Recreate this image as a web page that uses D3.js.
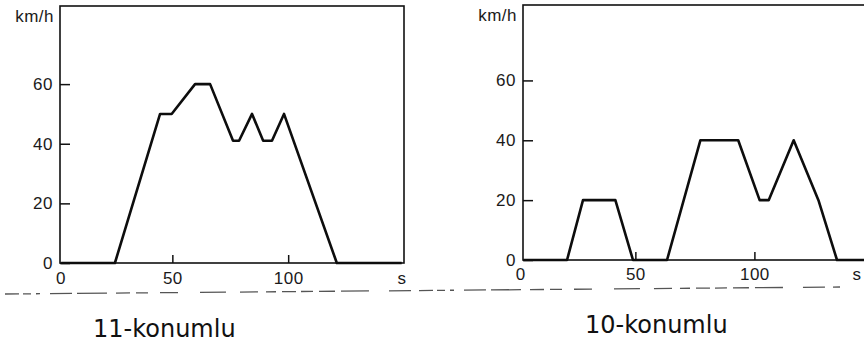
<!DOCTYPE html>
<html>
<head>
<meta charset="utf-8">
<script src="https://cdn.jsdelivr.net/npm/d3@7"></script>
<style>
  body { margin: 0; background: #fff; }
  svg { display: block; }
  .tick text { font-family: "Liberation Sans", Arial, sans-serif; font-size: 17px; fill: #1a1a1a; letter-spacing: 0.5px; }
  .unit { font-family: "Liberation Sans", Arial, sans-serif; font-size: 17px; fill: #1a1a1a; letter-spacing: 0.5px; }
  .hand { font-family: "DejaVu Sans", sans-serif; font-size: 24px; fill: #111; }
</style>
</head>
<body>
<svg width="864" height="348"></svg>
<script>
// Data (time in s, speed in km/h)
var leftTime  = [2, 25.2, 44.7, 49.7, 59.8, 66.3, 76.2, 78.8, 84.4, 89.2, 93.0, 98.2, 121, 149];
var leftSpeed = [0, 0,    50,   50,   60,   60,   41,   41,   50,   41,   41,   50,   0,   0];

var rightTime  = [3, 21.3, 28, 41.6, 49, 63.3, 77.3, 93.2, 102.2, 106, 116.5, 126.9, 134.7, 147];
var rightSpeed = [0, 0,    20, 20,   0,  0,    40,   40,   20,    20,  40,    20,    0,     0];

var xTicks = [0, 50, 100];
var yTicks = [0, 20, 40, 60];
var unitY = "km/h";
var unitX = "s";
var titles = ["11-konumlu", "10-konumlu"];

var svg = d3.select("svg");

// scan fold line under the charts
svg.append("path")
  .attr("d", "M5,294 L840,287")
  .attr("stroke", "#555")
  .attr("stroke-width", 1.3)
  .attr("fill", "none")
  .attr("stroke-dasharray", "14,4,8,5,4,10,22,5,30,9,14,6,12,12,18,22,26,14,18,8,10,6,14,5,12,6,16,6,28,20,22,8");

function panel(time, speed, opt) {
  var x = d3.scaleLinear().domain(opt.xDomain).range([opt.left, opt.right]);
  var y = d3.scaleLinear().domain(opt.yDomain).range([opt.bottom, opt.top]);
  var g = svg.append("g");

  // frame
  g.append("rect")
    .attr("x", opt.left).attr("y", opt.top)
    .attr("width", opt.right - opt.left).attr("height", opt.bottom - opt.top)
    .attr("fill", "none").attr("stroke", "#111").attr("stroke-width", 1.6);

  // y axis, ticks pointing inward
  var ya = g.append("g")
    .attr("transform", "translate(" + opt.left + ",0)")
    .call(d3.axisLeft(y).tickValues(yTicks).tickSize(-10).tickPadding(7));
  ya.select(".domain").remove();
  ya.selectAll("line").attr("stroke", "#111").attr("stroke-width", 1.5);

  // x axis, ticks pointing inward
  var xa = g.append("g")
    .attr("transform", "translate(0," + opt.bottom + ")")
    .call(d3.axisBottom(x).tickValues(xTicks).tickSize(-8).tickPadding(opt.xPad));
  xa.select(".domain").remove();
  xa.selectAll("line").attr("stroke", "#111").attr("stroke-width", 1.5)
    .filter(function(d) { return d === 0; }).remove();
  xa.selectAll("text").filter(function(d) { return d === 0; })
    .attr("dx", 4);

  g.append("text").attr("class", "unit")
    .attr("x", opt.left - 6).attr("y", opt.top + 16)
    .attr("text-anchor", "end").text(unitY);

  g.append("text").attr("class", "unit")
    .attr("x", opt.sX).attr("y", opt.bottom + opt.xPad + 12)
    .attr("text-anchor", "middle").text(unitX);

  var line = d3.line()
    .x(function(d, i) { return x(time[i]); })
    .y(function(d) { return y(d); });

  g.append("path")
    .datum(speed)
    .attr("d", line)
    .attr("fill", "none")
    .attr("stroke", "#0d0d0d")
    .attr("stroke-width", 2.6)
    .attr("stroke-linejoin", "round");

  g.append("text").attr("class", "hand")
    .attr("x", opt.titleX).attr("y", opt.titleY)
    .text(opt.title);
}

panel(leftTime, leftSpeed, {
  left: 60, right: 404, top: 6, bottom: 263,
  xDomain: [1.5, 150], yDomain: [0, 86.2],
  xPad: 9, sX: 402, title: titles[0], titleX: 93, titleY: 337
});

panel(rightTime, rightSpeed, {
  left: 523, right: 867, top: 5, bottom: 260,
  xDomain: [2.8, 147.3], yDomain: [0, 85.2],
  xPad: 8, sX: 857, title: titles[1], titleX: 585, titleY: 333
});
</script>
</body>
</html>
